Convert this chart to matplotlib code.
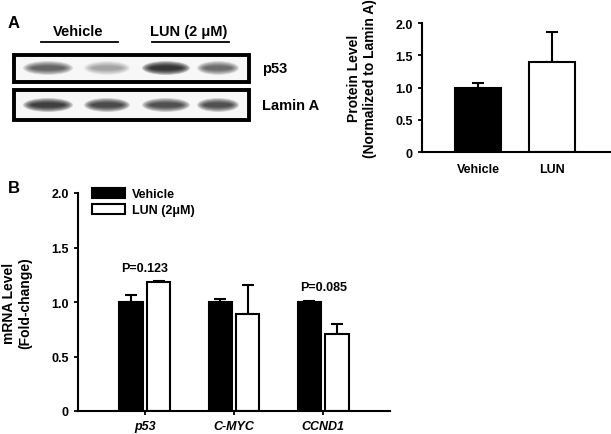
import matplotlib.pyplot as plt
from matplotlib.patches import Rectangle, Ellipse

plt.rcParams["font.family"] = ["Liberation Sans", "DejaVu Sans"]
plt.rcParams["font.weight"] = "bold"

# Panel A - protein level (normalized to Lamin A)
prot_groups = ["Vehicle", "LUN"]
prot_mean = [1.00, 1.39]
prot_err = [0.07, 0.47]

# Panel A - blot band intensities per lane (0..1)
blot_rows = ["p53", "Lamin A"]
p53_bands = [0.6, 0.28, 1.0, 0.55]
lamin_bands = [0.9, 0.8, 0.75, 0.75]

# Panel B - mRNA level (fold-change)
genes = ["p53", "C-MYC", "CCND1"]
veh_mean = [1.00, 1.00, 1.00]
veh_err = [0.065, 0.025, 0.01]
lun_mean = [1.18, 0.89, 0.71]
lun_err = [0.01, 0.27, 0.09]
pvals = {0: "P=0.123", 2: "P=0.085"}

W, H = 611, 435
fig = plt.figure(figsize=(W / 100, H / 100), dpi=100)

# ---------- blot drawn in pixel coords ----------
ov = fig.add_axes([0, 0, 1, 1])
ov.set_xlim(0, W)
ov.set_ylim(H, 0)
ov.axis("off")

ov.text(8, 23, "A", fontsize=12, fontweight="bold", va="center")
ov.text(8, 189, "B", fontsize=12, fontweight="bold", va="center")

ov.text(78, 32, "Vehicle", fontsize=10.5, ha="center", va="center")
ov.plot([41, 118], [43, 43], color="black", lw=1.3)
ov.text(189, 32, "LUN (2 \u03bcM)", fontsize=10.5, ha="center", va="center")
ov.plot([152, 229], [43, 43], color="black", lw=1.3)

lane_x = [48, 107, 166, 218]
lane_w = [50, 46, 48, 42]
boxes = [(56, 83), (91, 121)]
band_y = [69, 106]
for (y0, y1), by, bands, name in zip(boxes, band_y, [p53_bands, lamin_bands], blot_rows):
    ov.add_patch(Rectangle((14, y0), 235, y1 - y0, facecolor="#f7f7f7",
                           edgecolor="black", lw=2.8, zorder=1))
    for cx, w, a in zip(lane_x, lane_w, bands):
        for k in range(8):
            f = 1 - k * 0.1
            ov.add_patch(Ellipse((cx, by), w * (1 - k * 0.05), 14 * f,
                                 facecolor="black", edgecolor="none",
                                 alpha=a * 0.17, zorder=2))
    ov.text(262, (y0 + y1) / 2, name, fontsize=10.5, va="center")

# ---------- panel A bar chart ----------
axA = fig.add_axes([422 / W, 1 - 153 / H, 188 / W, 129 / H])
xa = list(range(len(prot_groups)))
axA.bar(xa, prot_mean, width=0.62, color=["black", "white"],
        edgecolor="black", lw=1.5, zorder=2)
axA.errorbar(xa, prot_mean, yerr=[[0] * 2, prot_err], fmt="none",
             ecolor="black", elinewidth=1.5, capsize=4, capthick=1.5, zorder=1)
axA.set_xlim(-0.76, 1.78)
axA.set_ylim(0, 2.0)
axA.set_yticks([0, 0.5, 1.0, 1.5, 2.0])
axA.set_yticklabels(["0", "0.5", "1.0", "1.5", "2.0"])
axA.set_xticks(xa)
axA.set_xticklabels(prot_groups)
axA.tick_params(axis="x", length=0, pad=8, labelsize=9)
axA.tick_params(axis="y", length=3, width=1.3, labelsize=9)
axA.set_ylabel("Protein Level\n(Normalized to Lamin A)", fontsize=10,
               fontweight="bold")
axA.yaxis.set_label_coords(-0.24, 0.58)
for s in ["top", "right"]:
    axA.spines[s].set_visible(False)
for s in ["left", "bottom"]:
    axA.spines[s].set_linewidth(1.5)

# ---------- panel B bar chart ----------
axB = fig.add_axes([78 / W, 1 - 412 / H, 312 / W, 218 / H])
xb = list(range(len(genes)))
bw = 0.26
off = 0.155
xv = [x - off for x in xb]
xl = [x + off for x in xb]
axB.bar(xv, veh_mean, width=bw, color="black", edgecolor="black", lw=1.5,
        label="Vehicle", zorder=2)
axB.bar(xl, lun_mean, width=bw, color="white", edgecolor="black", lw=1.5,
        label="LUN (2\u03bcM)", zorder=2)
axB.errorbar(xv, veh_mean, yerr=[[0] * 3, veh_err], fmt="none", ecolor="black",
             elinewidth=1.5, capsize=4, capthick=1.5, zorder=1)
axB.errorbar(xl, lun_mean, yerr=[[0] * 3, lun_err], fmt="none", ecolor="black",
             elinewidth=1.5, capsize=4, capthick=1.5, zorder=1)
for i, txt in pvals.items():
    top = max(veh_mean[i] + veh_err[i], lun_mean[i] + lun_err[i])
    axB.text(xb[i], top + 0.07, txt, ha="center", va="bottom", fontsize=9)
axB.set_xlim(-0.75, 2.75)
axB.set_ylim(0, 2.0)
axB.set_yticks([0, 0.5, 1.0, 1.5, 2.0])
axB.set_yticklabels(["0", "0.5", "1.0", "1.5", "2.0"])
axB.set_xticks(xb)
axB.set_xticklabels(genes, fontstyle="italic")
axB.tick_params(axis="x", length=3, width=1.3, pad=3.5, labelsize=9)
axB.tick_params(axis="y", length=3, width=1.3, labelsize=9)
axB.set_ylabel("mRNA Level\n(Fold-change)", fontsize=10, fontweight="bold")
axB.yaxis.set_label_coords(-0.147, 0.5)
for s in ["top", "right"]:
    axB.spines[s].set_visible(False)
for s in ["left", "bottom"]:
    axB.spines[s].set_linewidth(1.5)
axB.legend(loc="upper left", bbox_to_anchor=(0.03, 1.045), frameon=False,
           fontsize=9, handlelength=2.6, handleheight=0.8, handletextpad=0.6,
           labelspacing=0.3, borderaxespad=0)

fig.savefig("out.png", dpi=100)
